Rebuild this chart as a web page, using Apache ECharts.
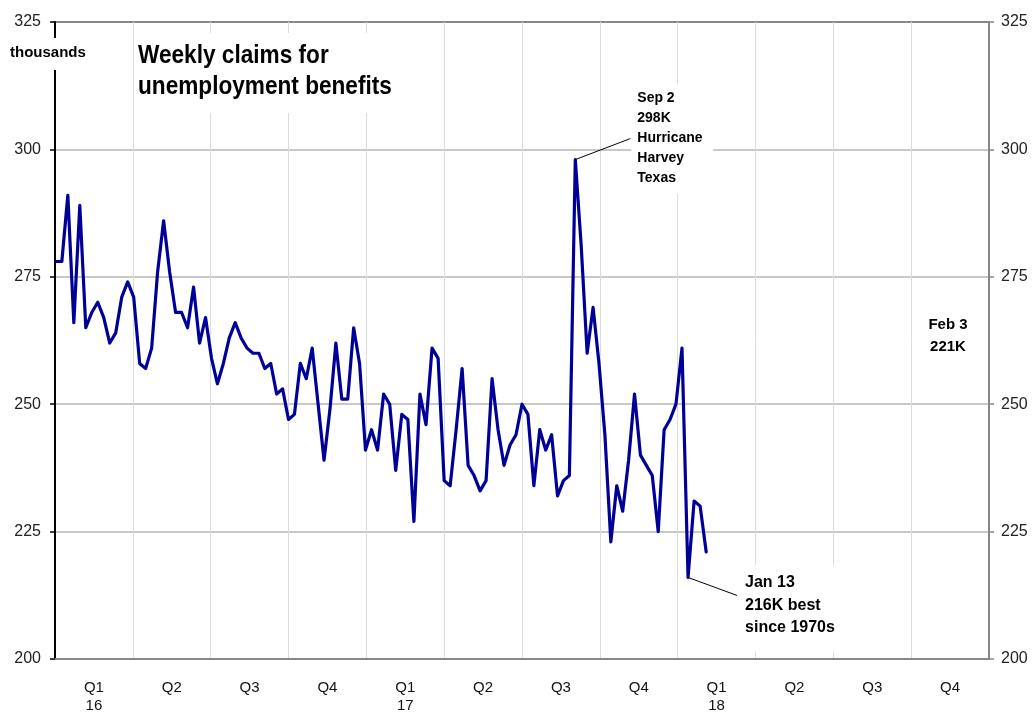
<!DOCTYPE html>
<html>
<head>
<meta charset="utf-8">
<script src="https://cdn.jsdelivr.net/npm/echarts@6/dist/echarts.min.js"></script>
<style>
html,body{margin:0;padding:0;background:#fff;}
#chart{width:1036px;height:713px;}
</style>
</head>
<body>
<div id="chart"></div>
<script>
// ---- data ----
const firstWeekEnding = '2016-01-02';   // weekly, week ending Saturday
const claims = [
  278, 278, 291, 266, 289, 265, 268, 270, 267, 262,
  264, 271, 274, 271, 258, 257, 261, 276, 286, 276,
  268, 268, 265, 273, 262, 267, 259, 254, 258, 263,
  266, 263, 261, 260, 260, 257, 258, 252, 253, 247,
  248, 258, 255, 261, 250, 239, 249, 262, 251, 251,
  265, 258, 241, 245, 241, 252, 250, 237, 248, 247,
  227, 252, 246, 261, 259, 235, 234, 245, 257, 238,
  236, 233, 235, 255, 245, 238, 242, 244, 250, 248,
  234, 245, 241, 244, 232, 235, 236, 298, 281, 260,
  269, 258, 244, 223, 234, 229, 239, 252, 240, 238,
  236, 225, 245, 247, 250, 261, 216, 231, 230, 221
];
const quarterLabels = ['Q1\n16','Q2','Q3','Q4','Q1\n17','Q2','Q3','Q4','Q1\n18','Q2','Q3','Q4'];
const yMin = 200, yMax = 325, yStep = 25;
const titleText = 'Weekly claims for\nunemployment benefits';
const unitText = 'thousands';
const noteSep = {date: '2017-09-02', text: 'Sep 2\n298K\nHurricane\nHarvey\nTexas'};
const noteJan = {date: '2018-01-13', text: 'Jan 13\n216K best\nsince 1970s'};
const noteLast = {text: 'Feb 3\n221K'};

// ---- helpers ----
const DAY = 86400000;
const t0 = Date.parse(firstWeekEnding + 'T00:00:00Z');
function weekTime(i){ return t0 + i * 7 * DAY; }
function quarterPos(t){
  const d = new Date(t);
  const y = d.getUTCFullYear(), m = d.getUTCMonth();
  const qm = Math.floor(m / 3) * 3;
  const s = Date.UTC(y, qm, 1), e = Date.UTC(y, qm + 3, 1);
  return (y - 2016) * 4 + qm / 3 + (t - s) / (e - s);
}
const seriesData = claims.map((v, i) => [quarterPos(weekTime(i)), v]);
function idxOf(dateStr){ return Math.round((Date.parse(dateStr + 'T00:00:00Z') - t0) / (7 * DAY)); }

const FONT = '"Liberation Sans", Arial, Helvetica, sans-serif';
const vColors = ['rgba(0,0,0,0)'];
for (let i = 1; i < 12; i++) vColors.push('#dcdcdc');
vColors.push('rgba(0,0,0,0)');

const chart = echarts.init(document.getElementById('chart'), null, {renderer: 'canvas'});
chart.setOption({
  animation: false,
  backgroundColor: '#fff',
  textStyle: {fontFamily: FONT},
  grid: {left: 55, right: 47, top: 22, bottom: 54, containLabel: false, outerBoundsMode: 'none'},
  xAxis: [
    {
      type: 'value', min: 0, max: 12, interval: 1, position: 'bottom',
      axisLine: {show: true, onZero: false, lineStyle: {color: '#888', width: 2}},
      axisTick: {show: false}, axisLabel: {show: false},
      splitLine: {show: true, lineStyle: {color: vColors, width: 1}}
    },
    {
      type: 'category', position: 'bottom', data: quarterLabels, boundaryGap: true,
      axisLine: {show: false}, axisTick: {show: false}, splitLine: {show: false},
      axisLabel: {interval: 0, color: '#111', fontSize: 15, lineHeight: 18, margin: 20, fontFamily: FONT}
    }
  ],
  yAxis: [
    {
      type: 'value', position: 'left', min: yMin, max: yMax, interval: yStep,
      axisLine: {show: true, lineStyle: {color: '#000', width: 2}},
      axisTick: {show: true, length: 5, lineStyle: {color: '#000', width: 1.5}},
      axisLabel: {fontSize: 16, color: '#222', margin: 14, fontFamily: FONT},
      splitLine: {show: true, lineStyle: {color: ['#888','#c8c8c8','#c8c8c8','#c8c8c8','#c8c8c8','#888'], width: 2}}
    },
    {
      type: 'value', position: 'right', min: yMin, max: yMax, interval: yStep,
      axisLine: {show: true, lineStyle: {color: '#888', width: 2}},
      axisTick: {show: true, length: 5, lineStyle: {color: '#888', width: 1.5}},
      axisLabel: {fontSize: 16, color: '#222', margin: 12, fontFamily: FONT},
      splitLine: {show: false}
    }
  ],
  series: [{
    type: 'line', xAxisIndex: 0, yAxisIndex: 0, data: seriesData,
    showSymbol: false, symbol: 'none', z: 3,
    lineStyle: {color: '#000099', width: 3.2, join: 'round', cap: 'round'}
  }]
});

const pSep = chart.convertToPixel({xAxisIndex: 0, yAxisIndex: 0}, seriesData[idxOf(noteSep.date)]);
const pJan = chart.convertToPixel({xAxisIndex: 0, yAxisIndex: 0}, seriesData[idxOf(noteJan.date)]);

const boldFont = (s) => 'bold ' + s + 'px ' + FONT;
chart.setOption({
  graphic: [
    // title
    {type: 'rect', z: 50, shape: {x: 134, y: 33, width: 268, height: 80}, style: {fill: '#fff'}},
    {type: 'text', z: 100, x: 138, y: 40, scaleX: 0.87,
      style: {text: titleText, font: boldFont(26), fill: '#000', lineHeight: 31, align: 'left', verticalAlign: 'top'}},
    // unit
    {type: 'rect', z: 50, shape: {x: 6, y: 38, width: 88, height: 32}, style: {fill: '#fff'}},
    {type: 'text', z: 100, x: 10, y: 45,
      style: {text: unitText, font: boldFont(15), fill: '#000', align: 'left', verticalAlign: 'top'}},
    // Sep 2 note
    {type: 'line', z: 60, shape: {x1: pSep[0], y1: pSep[1], x2: pSep[0] + 55, y2: pSep[1] - 21}, style: {stroke: '#000', lineWidth: 1}},
    {type: 'rect', z: 50, shape: {x: pSep[0] + 56, y: pSep[1] - 76, width: 82, height: 110}, style: {fill: '#fff'}},
    {type: 'text', z: 100, x: pSep[0] + 62, y: pSep[1] - 71,
      style: {text: noteSep.text, font: boldFont(14), fill: '#000', lineHeight: 20, align: 'left', verticalAlign: 'top'}},
    // Jan 13 note
    {type: 'line', z: 60, shape: {x1: pJan[0], y1: pJan[1], x2: pJan[0] + 49, y2: pJan[1] + 18}, style: {stroke: '#000', lineWidth: 1}},
    {type: 'rect', z: 50, shape: {x: pJan[0] + 51, y: pJan[1] - 12, width: 104, height: 86}, style: {fill: '#fff'}},
    {type: 'text', z: 100, x: pJan[0] + 57, y: pJan[1] - 6,
      style: {text: noteJan.text, font: boldFont(16), fill: '#000', lineHeight: 22.5, align: 'left', verticalAlign: 'top'}},
    // last value note
    {type: 'text', z: 100, x: 948, y: 314,
      style: {text: noteLast.text, font: boldFont(15), fill: '#000', lineHeight: 22, align: 'center', verticalAlign: 'top'}}
  ]
});
</script>
</body>
</html>
